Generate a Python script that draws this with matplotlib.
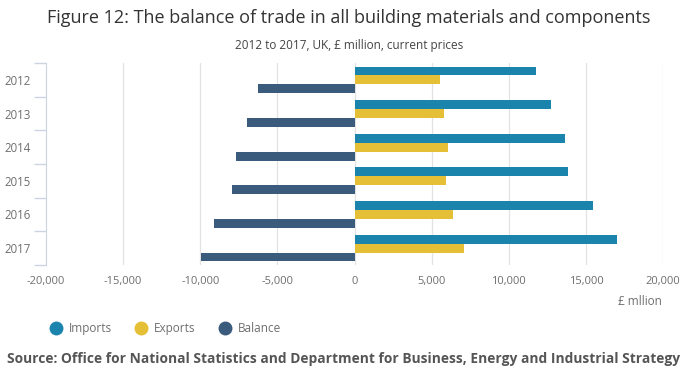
import numpy as np
import matplotlib
matplotlib.use('Agg')
import matplotlib.pyplot as plt
from matplotlib.lines import Line2D

# data (GBP million)
years = ['2012', '2013', '2014', '2015', '2016', '2017']
imports = [11770, 12740, 13650, 13840, 15460, 17010]
exports = [5560, 5820, 6080, 5950, 6400, 7110]
balance = [-6230, -6950, -7660, -7920, -9090, -9930]
x_ticks = [-20000, -15000, -10000, -5000, 0, 5000, 10000, 15000, 20000]

c_imp = '#1b84ad'
c_exp = '#e5bf35'
c_bal = '#3a5b7c'
txt = '#6e6e6e'

plt.rcParams['font.family'] = ['Open Sans', 'DejaVu Sans']

fig = plt.figure(figsize=(6.98, 3.85), dpi=100)
ax = fig.add_axes([0.066, 0.312, 0.884, 0.524])

y = np.arange(len(years))
h = 0.265
ax.barh(y - h, imports, height=h, color=c_imp, zorder=3)
ax.barh(y, exports, height=h, color=c_exp, zorder=3)
ax.barh(y + h, balance, height=h, color=c_bal, zorder=3)

ax.set_xlim(-20000, 20000)
ax.set_ylim(len(years) - 0.5, -0.5)

ax.set_xticks(x_ticks)
ax.set_xticklabels([f'{v:,}' for v in x_ticks])
ax.tick_params(axis='x', length=0, pad=8, labelsize=8, labelcolor=txt)
for v in x_ticks[1:]:
    ax.axvline(v, color='#e2e2e2', lw=0.9, zorder=1)

# category boundaries carry the tick marks, labels sit in between
ax.set_yticks(np.arange(-0.5, len(years), 1.0))
ax.set_yticklabels([])
ax.set_yticks(y, minor=True)
ax.set_yticklabels(years, minor=True)
ax.tick_params(axis='y', which='major', length=9, color='#ccd4e2', width=1)
ax.tick_params(axis='y', which='minor', length=0, pad=11, labelsize=8.3, labelcolor=txt)

for s in ['top', 'right', 'bottom']:
    ax.spines[s].set_visible(False)
ax.spines['left'].set_color('#ccd4e2')

fig.text(0.5, 0.953, 'Figure 12: The balance of trade in all building materials and components',
         ha='center', va='center', fontsize=13, color='#333333')
fig.text(0.5, 0.883, '2012 to 2017, UK, £ million, current prices',
         ha='center', va='center', fontsize=8.5, color='#444444')
fig.text(0.948, 0.216, '£ mllion', ha='right', va='center', fontsize=8.5, color=txt)

handles = [Line2D([], [], ls='', marker='o', markersize=9, color=c) for c in (c_imp, c_exp, c_bal)]
fig.legend(handles, ['Imports', 'Exports', 'Balance'], loc='center left',
           bbox_to_anchor=(0.056, 0.146), ncol=3, frameon=False, fontsize=8.5,
           labelcolor=txt, handlelength=1.0, handletextpad=0.6, columnspacing=2.0)

fig.text(0.01, 0.068, 'Source: Office for National Statistics and Department for Business, Energy and Industrial Strategy',
         ha='left', va='center', fontsize=9.9, fontweight='bold', color='#555555')

fig.savefig('out.png', dpi=100)
